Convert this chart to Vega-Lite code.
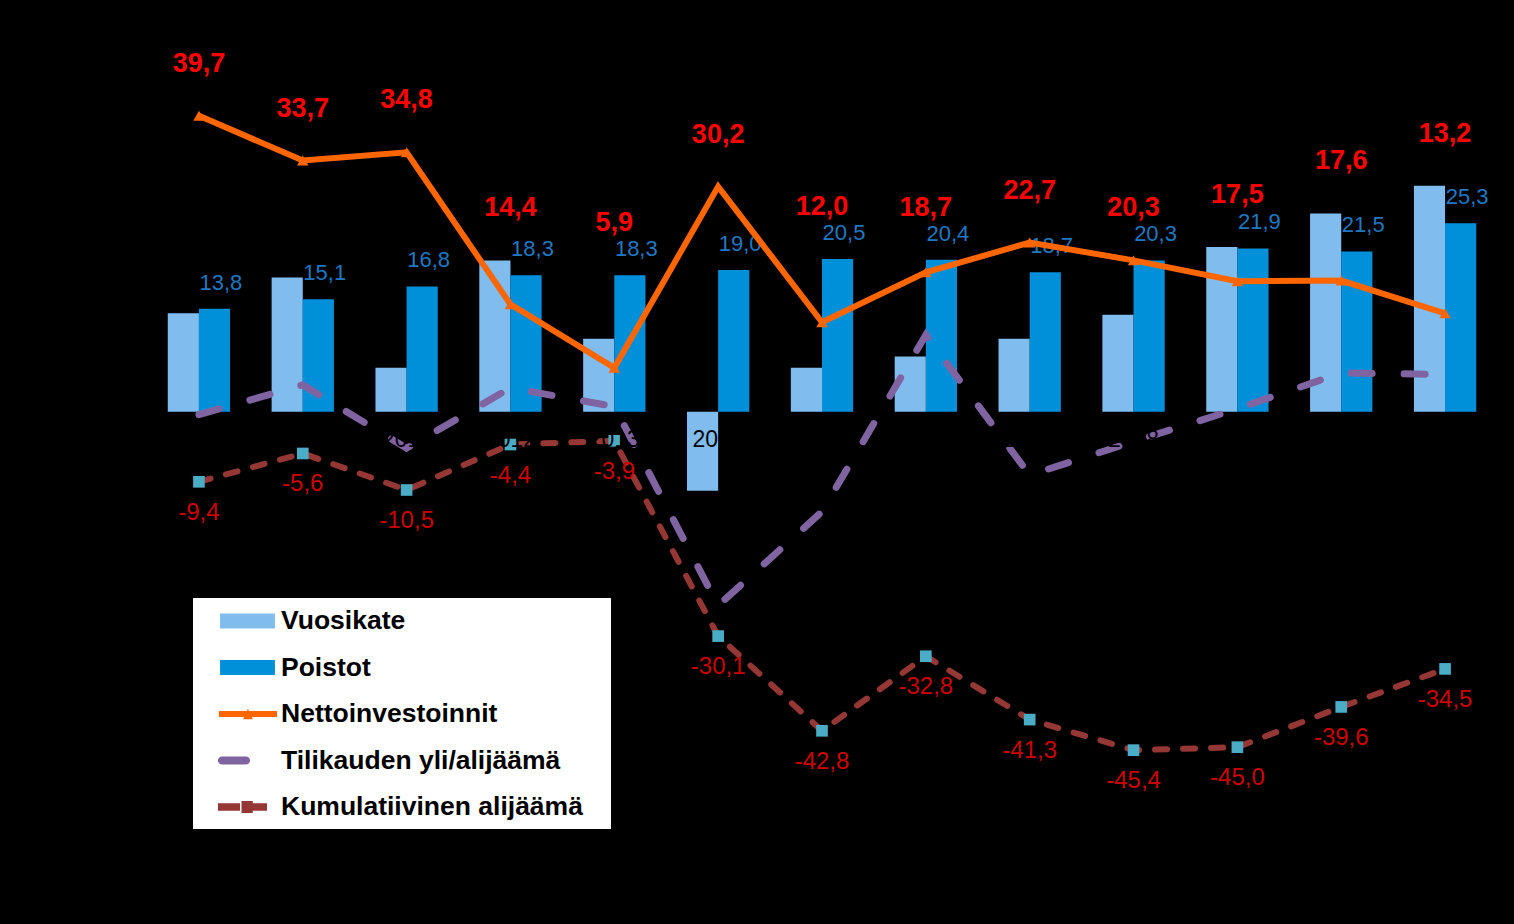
{
  "$schema": "https://vega.github.io/schema/vega-lite/v6.json",
  "width": 1350,
  "height": 820,
  "autosize": {"type": "none"},
  "padding": {"left": 147, "top": 39, "right": 17, "bottom": 65},
  "background": "#000000",
  "config": {
    "view": {"stroke": null},
    "font": "Liberation Sans",
    "locale": {"number": {"decimal": ",", "thousands": " ", "grouping": [3], "currency": ["", " €"], "minus": "-"}}
  },
  "data": {"values": [
    {"vuosi": "2009", "Vuosikate": 13.2, "Poistot": 13.8, "Nettoinvestoinnit": 39.7, "Tilikauden yli/alijäämä": -0.4, "Kumulatiivinen alijäämä": -9.4},
    {"vuosi": "2010", "Vuosikate": 18.0, "Poistot": 15.1, "Nettoinvestoinnit": 33.7, "Tilikauden yli/alijäämä": 3.6, "Kumulatiivinen alijäämä": -5.6},
    {"vuosi": "2011", "Vuosikate": 5.9, "Poistot": 16.8, "Nettoinvestoinnit": 34.8, "Tilikauden yli/alijäämä": -4.9, "Kumulatiivinen alijäämä": -10.5},
    {"vuosi": "2012", "Vuosikate": 20.3, "Poistot": 18.3, "Nettoinvestoinnit": 14.4, "Tilikauden yli/alijäämä": 3.2, "Kumulatiivinen alijäämä": -4.4},
    {"vuosi": "2013", "Vuosikate": 9.8, "Poistot": 18.3, "Nettoinvestoinnit": 5.9, "Tilikauden yli/alijäämä": 0.7, "Kumulatiivinen alijäämä": -3.9},
    {"vuosi": "2014", "Vuosikate": -10.6, "Poistot": 19.0, "Nettoinvestoinnit": 30.2, "Tilikauden yli/alijäämä": -26.0, "Kumulatiivinen alijäämä": -30.1},
    {"vuosi": "2015", "Vuosikate": 5.9, "Poistot": 20.5, "Nettoinvestoinnit": 12.0, "Tilikauden yli/alijäämä": -13.4, "Kumulatiivinen alijäämä": -42.8},
    {"vuosi": "2016", "Vuosikate": 7.4, "Poistot": 20.4, "Nettoinvestoinnit": 18.7, "Tilikauden yli/alijäämä": 10.3, "Kumulatiivinen alijäämä": -32.8},
    {"vuosi": "2017", "Vuosikate": 9.8, "Poistot": 18.7, "Nettoinvestoinnit": 22.7, "Tilikauden yli/alijäämä": -8.5, "Kumulatiivinen alijäämä": -41.3},
    {"vuosi": "2018", "Vuosikate": 13.0, "Poistot": 20.3, "Nettoinvestoinnit": 20.3, "Tilikauden yli/alijäämä": -4.0, "Kumulatiivinen alijäämä": -45.4},
    {"vuosi": "2019", "Vuosikate": 22.1, "Poistot": 21.9, "Nettoinvestoinnit": 17.5, "Tilikauden yli/alijäämä": 0.4, "Kumulatiivinen alijäämä": -45.0},
    {"vuosi": "2020", "Vuosikate": 26.6, "Poistot": 21.5, "Nettoinvestoinnit": 17.6, "Tilikauden yli/alijäämä": 5.2, "Kumulatiivinen alijäämä": -39.6},
    {"vuosi": "2021", "Vuosikate": 30.3, "Poistot": 25.3, "Nettoinvestoinnit": 13.2, "Tilikauden yli/alijäämä": 5.0, "Kumulatiivinen alijäämä": -34.5}
  ]},
  "encoding": {
    "x": {
      "field": "vuosi", "type": "nominal", "sort": null,
      "scale": {"type": "band", "paddingInner": 0.4, "paddingOuter": 0.2},
      "axis": {"title": null, "orient": "bottom", "offset": -447, "domain": false, "ticks": false, "grid": false, "labelColor": "#000000", "labelFontSize": 23, "labelPadding": 16, "labelAngle": 0, "zindex": 1}
    }
  },
  "layer": [
    {
      "transform": [{"fold": ["Vuosikate", "Poistot"], "as": ["sarja", "arvo"]}],
      "mark": {"type": "bar"},
      "encoding": {
        "xOffset": {"field": "sarja", "type": "nominal", "sort": ["Vuosikate", "Poistot"], "scale": {"domain": ["Vuosikate", "Poistot"], "paddingInner": 0, "paddingOuter": 0}},
        "y": {"field": "arvo", "type": "quantitative", "scale": {"domain": [-60, 50], "nice": false}, "axis": null},
        "fill": {"field": "sarja", "type": "nominal", "scale": {"domain": ["Vuosikate", "Poistot"], "range": ["#80bdee", "#0090da"]}, "legend": null}
      }
    },
    {
      "mark": {"type": "text", "dx": 22, "dy": -26, "fontSize": 22, "color": "#1f78c1", "baseline": "middle", "align": "center"},
      "encoding": {
        "y": {"field": "Poistot", "type": "quantitative", "scale": {"domain": [-60, 50], "nice": false}, "axis": null},
        "text": {"field": "Poistot", "type": "quantitative", "format": ".1f"}
      }
    },
    {
      "mark": {"type": "line", "color": "#8064a2", "strokeWidth": 7, "strokeCap": "round", "strokeDash": [21, 32]},
      "encoding": {
        "y": {"field": "Tilikauden yli/alijäämä", "type": "quantitative", "scale": {"domain": [-60, 50], "nice": false}, "axis": null}
      }
    },
    {
      "mark": {"type": "line", "color": "#953735", "strokeWidth": 6, "strokeCap": "round", "strokeDash": [12, 16]},
      "encoding": {
        "y": {"field": "Kumulatiivinen alijäämä", "type": "quantitative", "scale": {"domain": [-60, 50], "nice": false}, "axis": null}
      }
    },
    {
      "mark": {"type": "point", "shape": "square", "filled": true, "color": "#4bacc6", "size": 136, "opacity": 1},
      "encoding": {
        "y": {"field": "Kumulatiivinen alijäämä", "type": "quantitative", "scale": {"domain": [-60, 50], "nice": false}, "axis": null}
      }
    },
    {
      "mark": {"type": "text", "dy": 31, "fontSize": 24, "color": "#cc0000", "baseline": "middle", "align": "center"},
      "encoding": {
        "y": {"field": "Kumulatiivinen alijäämä", "type": "quantitative", "scale": {"domain": [-60, 50], "nice": false}, "axis": null},
        "text": {"field": "Kumulatiivinen alijäämä", "type": "quantitative", "format": ".1f"}
      }
    },
    {
      "mark": {"type": "line", "color": "#ff6600", "strokeWidth": 6, "point": {"shape": "triangle-up", "filled": true, "size": 130, "color": "#ff6600", "opacity": 1}},
      "encoding": {
        "y": {"field": "Nettoinvestoinnit", "type": "quantitative", "scale": {"domain": [-60, 50], "nice": false}, "axis": null}
      }
    },
    {
      "transform": [
        {"fold": ["Vuosikate", "Poistot", "Nettoinvestoinnit"], "as": ["sarja", "arvo"]},
        {"joinaggregate": [{"op": "max", "field": "arvo", "as": "ylin"}], "groupby": ["vuosi"]},
        {"filter": "datum.sarja == 'Nettoinvestoinnit'"}
      ],
      "mark": {"type": "text", "dy": -52, "fontSize": 27, "fontWeight": "bold", "color": "#ff0000", "baseline": "middle", "align": "center"},
      "encoding": {
        "y": {"field": "ylin", "type": "quantitative", "scale": {"domain": [-60, 50], "nice": false}, "axis": null},
        "text": {"field": "arvo", "type": "quantitative", "format": ".1f"}
      }
    },
    {
      "transform": [
        {"filter": "datum.vuosi == '2009'"},
        {"fold": ["Vuosikate", "Poistot", "Nettoinvestoinnit", "Tilikauden yli/alijäämä", "Kumulatiivinen alijäämä"], "as": ["sarja", "arvo"]}
      ],
      "mark": {"type": "point", "filled": true, "opacity": 0},
      "encoding": {
        "y": {"field": "arvo", "type": "quantitative", "scale": {"domain": [-60, 50], "nice": false}, "axis": null},
        "color": {
          "field": "sarja", "type": "nominal",
          "scale": {"domain": ["Vuosikate", "Poistot", "Nettoinvestoinnit", "Tilikauden yli/alijäämä", "Kumulatiivinen alijäämä"], "range": ["#80bdee", "#0090da", "#ff6600", "#8064a2", "#953735"]},
          "legend": {"title": null, "orient": "none", "legendX": 46, "legendY": 559, "direction": "vertical", "fillColor": "#ffffff", "padding": 8, "rowPadding": 17.5, "symbolSize": 900, "symbolOpacity": 1, "symbolStrokeWidth": 0, "labelOffset": 50, "labelFontSize": 26.5, "labelFont": "Liberation Sans", "labelFontWeight": "bold", "labelColor": "#000000", "labelLimit": 500, "labelExpr": "datum.label + '\u2800'"}
        },
        "shape": {
          "field": "sarja", "type": "nominal",
          "scale": {"domain": ["Vuosikate", "Poistot", "Nettoinvestoinnit", "Tilikauden yli/alijäämä", "Kumulatiivinen alijäämä"], "range": [
            "M0.27,-0.5H3.93V0.5H0.27Z",
            "M0.27,-0.5H3.93V0.5H0.27Z",
            "M0.2,-0.2H4.07V0.2H0.2Z M1.8,0.35L2.13,-0.35L2.46,0.35Z",
            "M0.4,-0.27H2A0.27,0.27 0 0 1 2,0.27H0.4A0.27,0.27 0 0 1 0.4,-0.27Z",
            "M0.13,-0.25H1.6V0.25H0.13Z M2.4,-0.25H3.4V0.25H2.4Z M1.7,-0.4H2.45V0.4H1.7Z"
          ]},
          "legend": {"title": null, "orient": "none", "legendX": 46, "legendY": 559, "direction": "vertical", "fillColor": "#ffffff", "padding": 8, "rowPadding": 17.5, "symbolSize": 900, "symbolOpacity": 1, "symbolStrokeWidth": 0, "labelOffset": 50, "labelFontSize": 26.5, "labelFont": "Liberation Sans", "labelFontWeight": "bold", "labelColor": "#000000", "labelLimit": 500, "labelExpr": "datum.label + '\u2800'"}
        }
      }
    }
  ]
}
